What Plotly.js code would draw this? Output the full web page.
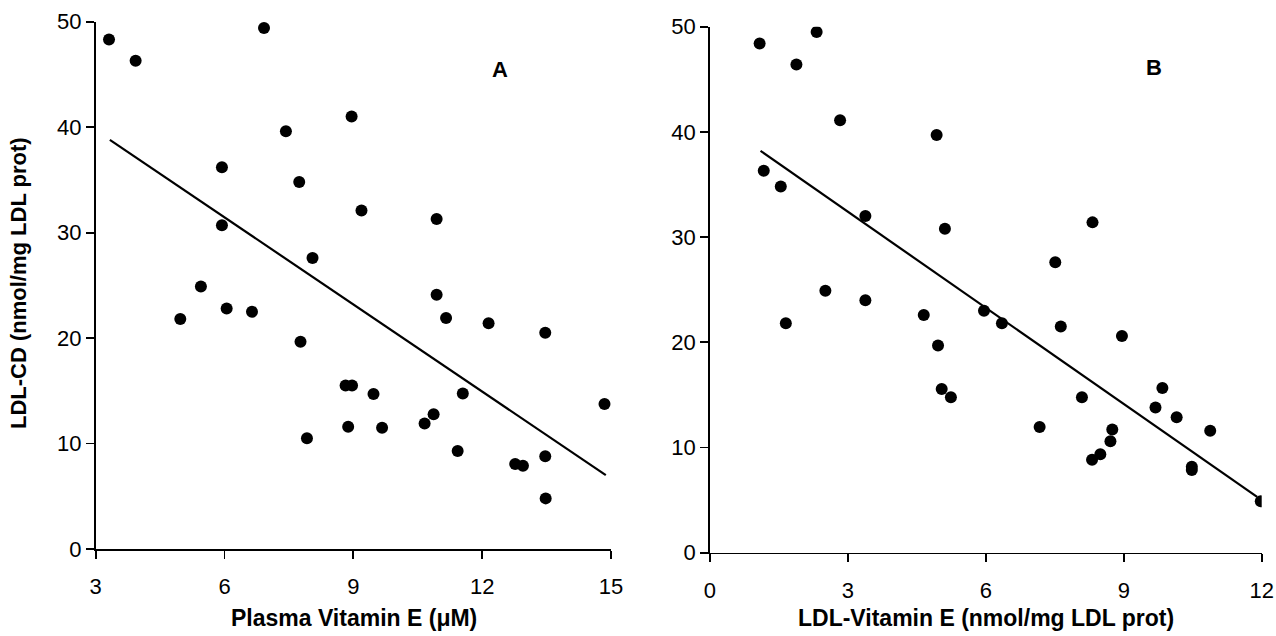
<!DOCTYPE html>
<html>
<head>
<meta charset="utf-8">
<script src="https://cdn.plot.ly/plotly-3.0.1.min.js"></script>
<style>html,body{margin:0;padding:0;background:#fff;}#chart{width:1276px;height:636px;}</style>
</head>
<body>
<div id="chart"></div>
<script>
// Panel A: Plasma Vitamin E (uM) vs LDL-CD
const plasmaVitE = [3.31,3.93,6.92,7.43,5.94,7.74,5.94,8.05,5.45,6.05,6.64,4.97,7.77,7.92,8.96,9.19,10.94,10.94,11.16,12.15,13.47,8.82,8.97,9.47,11.55,14.85,10.87,10.66,8.88,9.67,11.43,13.47,12.77,12.95,13.48];
const ldlCD_A   = [48.3,46.3,49.4,39.6,36.2,34.8,30.7,27.6,24.9,22.8,22.5,21.8,19.65,10.5,41.0,32.1,31.3,24.1,21.9,21.4,20.5,15.5,15.5,14.7,14.75,13.74,12.77,11.9,11.6,11.5,9.29,8.8,8.06,7.9,4.8];
const fitA_x = [3.33,14.88];
const fitA_y = [38.8,7.0];

// Panel B: LDL-Vitamin E (nmol/mg LDL prot) vs LDL-CD
const ldlVitE = [1.08,2.32,1.88,2.83,4.93,1.17,1.54,3.38,5.11,2.51,3.38,4.65,1.65,4.96,5.04,5.24,8.32,7.51,5.96,6.35,7.63,8.96,9.84,8.09,9.69,10.15,8.75,10.88,7.17,8.71,8.49,8.31,10.48,10.48,11.98];
const ldlCD_B = [48.4,49.5,46.4,41.1,39.7,36.3,34.8,32.0,30.8,24.9,24.0,22.6,21.8,19.7,15.56,14.77,31.4,27.6,23.0,21.8,21.5,20.6,15.65,14.77,13.8,12.87,11.7,11.6,11.95,10.6,9.35,8.84,8.18,7.86,4.88];
const fitB_x = [1.10,11.9];
const fitB_y = [38.2,5.3];

const xTicksA = [3,6,9,12,15];
const xTicksB = [0,3,6,9,12];
const yTicks = [0,10,20,30,40,50];

const FONT = "Liberation Sans, Arial, Helvetica, sans-serif";
const mk = {color:'#000', size:12};

const traces = [
  {x:plasmaVitE, y:ldlCD_A, mode:'markers', type:'scatter', marker:mk, xaxis:'x', yaxis:'y'},
  {x:fitA_x, y:fitA_y, mode:'lines', type:'scatter', line:{color:'#000', width:2.2}, xaxis:'x', yaxis:'y'},
  {x:ldlVitE, y:ldlCD_B, mode:'markers', type:'scatter', marker:mk, xaxis:'x2', yaxis:'y2'},
  {x:fitB_x, y:fitB_y, mode:'lines', type:'scatter', line:{color:'#000', width:2.2}, xaxis:'x2', yaxis:'y2'}
];

const axBase = {
  showline:true, linecolor:'#000', linewidth:1.8, mirror:false,
  ticks:'outside', ticklen:8, tickwidth:1.8, tickcolor:'#000',
  showgrid:false, zeroline:false, fixedrange:true,
  tickfont:{family:FONT, size:22, color:'#000'}
};

const layout = {
  width:1276, height:636,
  margin:{l:0, r:0, t:0, b:0},
  paper_bgcolor:'#fff', plot_bgcolor:'#fff',
  showlegend:false,
  font:{family:FONT, color:'#000'},
  xaxis: Object.assign({}, axBase, {domain:[0.075,0.4788], range:[3,15], tickvals:xTicksA, ticktext:xTicksA.map(String), anchor:'y', ticklabelstandoff:9}),
  yaxis: Object.assign({}, axBase, {domain:[0.1368,0.9659], range:[0,50], tickvals:yTicks, ticktext:yTicks.map(String), anchor:'x', ticklabelstandoff:0}),
  xaxis2: Object.assign({}, axBase, {domain:[0.5564,0.9888], range:[0,12], tickvals:xTicksB, ticktext:xTicksB.map(String), anchor:'y2', ticklabelstandoff:9}),
  yaxis2: Object.assign({}, axBase, {domain:[0.131,0.958], range:[0,50], tickvals:yTicks, ticktext:yTicks.map(String), anchor:'x2', ticklabelstandoff:0}),
  annotations:[
    {text:'<b>Plasma Vitamin E (μM)</b>', xref:'paper', yref:'paper', x:354/1276, y:1-618/636, xanchor:'center', yanchor:'middle', showarrow:false, font:{family:FONT, size:23, color:'#000'}},
    {text:'<b>LDL-Vitamin E (nmol/mg LDL prot)</b>', xref:'paper', yref:'paper', x:986/1276, y:1-618/636, xanchor:'center', yanchor:'middle', showarrow:false, font:{family:FONT, size:23, color:'#000'}},
    {text:'<b>LDL-CD (nmol/mg LDL prot)</b>', xref:'paper', yref:'paper', x:18/1276, y:1-283/636, xanchor:'center', yanchor:'middle', textangle:-90, showarrow:false, font:{family:FONT, size:22, color:'#000'}},
    {text:'<b>A</b>', xref:'paper', yref:'paper', x:500/1276, y:1-69/636, xanchor:'center', yanchor:'middle', showarrow:false, font:{family:FONT, size:22, color:'#000'}},
    {text:'<b>B</b>', xref:'paper', yref:'paper', x:1154/1276, y:1-67/636, xanchor:'center', yanchor:'middle', showarrow:false, font:{family:FONT, size:22, color:'#000'}}
  ]
};

Plotly.newPlot('chart', traces, layout, {staticPlot:true, displayModeBar:false});
</script>
</body>
</html>
